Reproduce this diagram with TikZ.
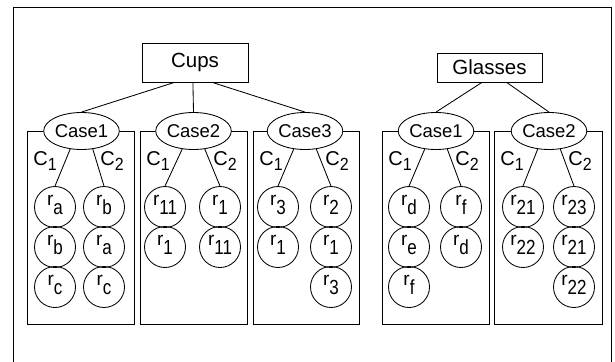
\documentclass[tikz,border=0pt]{standalone}
\usepackage{fontspec}
\setmainfont{Liberation Sans}
\usetikzlibrary{shapes.geometric}

% r with a lowered index, and C with a lowered index
\newcommand\rsub[1]{{\fontsize{19}{19}\selectfont r}\raisebox{-9.5pt}{\scalebox{1}[1.2]{\fontsize{17}{17}\selectfont #1}}}
\newcommand\csub[1]{{\fontsize{20}{20}\selectfont C}\raisebox{-5.5pt}{\scalebox{1}[1.1]{\fontsize{16}{16}\selectfont #1}}}

\begin{document}
\begin{tikzpicture}[x=1pt,y=-1pt,line width=0.85pt,
  headbox/.style={draw,rectangle,inner sep=0pt,font=\fontsize{20.5}{20.5}\selectfont},
  casebox/.style={draw,ellipse,fill=white,inner sep=0pt,minimum width=73pt,minimum height=37pt,font=\fontsize{18.5}{18.5}\selectfont},
  rnode/.style={draw,circle,inner sep=0pt,minimum size=41pt,text height=6pt,text depth=10pt},
  clabel/.style={anchor=base west,inner sep=0pt}]
\clip (0,0) rectangle (615,361);

% outer frame (open at the bottom)
\draw (13.5,370) -- (13.5,7.5) -- (611.5,7.5) -- (611.5,370);

% top-level boxes
\node[headbox,minimum width=106pt,minimum height=39pt] (cups) at (195,62.5) {Cups};
\node[headbox,minimum width=105pt,minimum height=29pt] (glasses) at (489.5,67.5) {Glasses};

% group frames
\draw (27,131) rectangle (134,324);
\draw (140,131) rectangle (247,324);
\draw (253,131) rectangle (359,324);
\draw (382,131) rectangle (489,324);
\draw (494,131) rectangle (602,324);

% case ellipses
\node[casebox] (cu1) at (81.5,131) {Case1};
\node[casebox] (cu2) at (193.5,131) {Case2};
\node[casebox] (cu3) at (305,131) {Case3};
\node[casebox] (gl1) at (436,131) {Case1};
\node[casebox] (gl2) at (549,131) {Case2};

% links from the top boxes to the cases
\draw (cups.-136) -- (cu1.north);
\draw (cups.-96) -- (cu2.north);
\draw (cups.-49) -- (cu3.north);
\draw (glasses.-117) -- (gl1.north);
\draw (glasses.-41) -- (gl2.north);

% C labels
\foreach \l/\r in {27/134,140/247,253/359,382/489,494/602}{
  \node[clabel] at (\l+6,165) {\csub{1}};
  \node[clabel] at (\r-34,165) {\csub{2}};
}

% Cups / Case1
\foreach \s [count=\i] in {a,b,c} \node[rnode] (cu1l\i) at (55,167+40*\i) {\rsub{\s}};
\foreach \s [count=\i] in {b,a,c} \node[rnode] (cu1r\i) at (104,167+40*\i) {\rsub{\s}};
% Cups / Case2
\foreach \s [count=\i] in {11,1} \node[rnode] (cu2l\i) at (165,167+40*\i) {\rsub{\s}};
\foreach \s [count=\i] in {1,11} \node[rnode] (cu2r\i) at (220,167+40*\i) {\rsub{\s}};
% Cups / Case3
\foreach \s [count=\i] in {3,1} \node[rnode] (cu3l\i) at (278,167+40*\i) {\rsub{\s}};
\foreach \s [count=\i] in {2,1,3} \node[rnode] (cu3r\i) at (331,167+40*\i) {\rsub{\s}};
% Glasses / Case1
\foreach \s [count=\i] in {d,e,f} \node[rnode] (gl1l\i) at (409,167+40*\i) {\rsub{\s}};
\foreach \s [count=\i] in {f,d} \node[rnode] (gl1r\i) at (461,167+40*\i) {\rsub{\s}};
% Glasses / Case2
\foreach \s [count=\i] in {21,22} \node[rnode] (gl2l\i) at (523,167+40*\i) {\rsub{\s}};
\foreach \s [count=\i] in {23,21,22} \node[rnode] (gl2r\i) at (574,167+40*\i) {\rsub{\s}};

% links from the cases to the first circles
\foreach \c in {cu1,cu2,cu3,gl1,gl2}{
  \draw (\c.-122) -- (\c l1.north);
  \draw (\c.-58) -- (\c r1.north);
}
\end{tikzpicture}
\end{document}
